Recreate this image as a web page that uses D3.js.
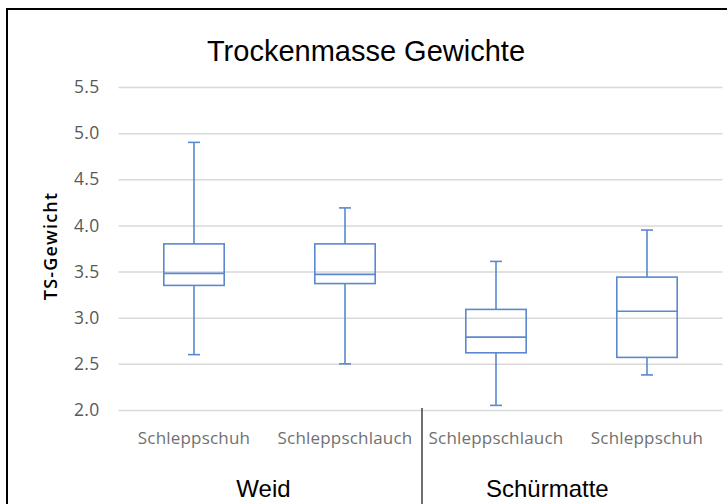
<!DOCTYPE html>
<html><head><meta charset="utf-8">
<script src="https://cdn.jsdelivr.net/npm/d3@7"></script>
<style>html,body{margin:0;padding:0;background:#fff;} svg{display:block;}</style>
</head><body>
<svg id="c" width="727" height="504"></svg>
<script>
// ---- data ----
const categories = ["Schleppschuh", "Schleppschlauch", "Schleppschlauch", "Schleppschuh"];
const groups = ["Weid", "Schürmatte"];
const groupOf = [0, 0, 1, 1];
const mins    = [2.60, 2.50, 2.05, 2.38];
const q1s     = [3.35, 3.37, 2.62, 2.57];
const medians = [3.48, 3.47, 2.79, 3.07];
const q3s     = [3.80, 3.80, 3.09, 3.44];
const maxs    = [4.90, 4.19, 3.61, 3.95];
const yTicks  = [2.0, 2.5, 3.0, 3.5, 4.0, 4.5, 5.0, 5.5];
const chartTitle = "Trockenmasse Gewichte";
const yTitle = "TS-Gewicht";

// ---- layout ----
const svg = d3.select("#c");
const W = 727, H = 504;
const pLeft = 118.5, pRight = 722.5, pTop = 87, pBottom = 410;
const x = d3.scaleBand().domain(d3.range(categories.length)).range([pLeft, pRight]).padding(0);
const y = d3.scaleLinear().domain([2.0, 5.5]).range([pBottom, pTop]);
const blue = "#5b88cf";

// frame
svg.append("line").attr("x1", 7).attr("x2", 7).attr("y1", 8).attr("y2", H).attr("stroke", "#000").attr("stroke-width", 2);
svg.append("line").attr("x1", 6).attr("x2", W).attr("y1", 9).attr("y2", 9).attr("stroke", "#000").attr("stroke-width", 2);

// title
svg.append("text").attr("x", 366).attr("y", 61).attr("text-anchor", "middle")
  .attr("font-family", "Liberation Sans, Arial, sans-serif").attr("font-size", 29).attr("fill", "#000").text(chartTitle);

// grid
const yAxis = d3.axisLeft(y).tickValues(yTicks).tickFormat(d3.format(".1f")).tickSize(-(pRight - pLeft)).tickPadding(19);
const gy = svg.append("g").attr("transform", `translate(${pLeft},0)`).call(yAxis);
gy.select(".domain").remove();
gy.selectAll(".tick line").attr("stroke", "#d9d9d9").attr("stroke-width", 1.5);
gy.selectAll(".tick text").attr("font-family", "Open Sans, sans-serif").attr("font-size", 17.5).attr("letter-spacing", 0.3).attr("fill", "#595959");

// y title
svg.append("text").attr("transform", `translate(57,246) rotate(-90)`).attr("text-anchor", "middle")
  .attr("font-family", "Open Sans, sans-serif").attr("font-weight", 600).attr("font-size", 18).attr("letter-spacing", 1.2).attr("fill", "#000").text(yTitle);

// boxes
const bw = x.bandwidth() * 0.4;
const cap = 12;
const g = svg.append("g").attr("fill", "none").attr("stroke", blue).attr("stroke-width", 1.6);
categories.forEach((c, i) => {
  const cx = x(i) + x.bandwidth() / 2;
  g.append("line").attr("x1", cx).attr("x2", cx).attr("y1", y(maxs[i])).attr("y2", y(q3s[i]));
  g.append("line").attr("x1", cx).attr("x2", cx).attr("y1", y(q1s[i])).attr("y2", y(mins[i]));
  g.append("line").attr("x1", cx - cap / 2).attr("x2", cx + cap / 2).attr("y1", y(maxs[i])).attr("y2", y(maxs[i]));
  g.append("line").attr("x1", cx - cap / 2).attr("x2", cx + cap / 2).attr("y1", y(mins[i])).attr("y2", y(mins[i]));
  g.append("rect").attr("x", cx - bw / 2).attr("y", y(q3s[i])).attr("width", bw).attr("height", y(q1s[i]) - y(q3s[i]));
  g.append("line").attr("x1", cx - bw / 2).attr("x2", cx + bw / 2).attr("y1", y(medians[i])).attr("y2", y(medians[i]));
});

// category labels
svg.append("g").selectAll("text").data(categories).join("text")
  .attr("x", (d, i) => x(i) + x.bandwidth() / 2).attr("y", 444).attr("text-anchor", "middle")
  .attr("font-family", "Open Sans, sans-serif").attr("font-size", 17).attr("letter-spacing", 0.2).attr("fill", "#707070").text(d => d);

// group divider
const divX = x(2) + 1.5;
svg.append("line").attr("x1", divX).attr("x2", divX).attr("y1", 408).attr("y2", H).attr("stroke", "#404040").attr("stroke-width", 1.5);

// group labels
const groupFrac = [0.48, 0.42];
groups.forEach((gname, gi) => {
  const idx = groupOf.map((v, i) => v === gi ? i : -1).filter(v => v >= 0);
  const s = x(idx[0]), e = x(idx[idx.length - 1]) + x.bandwidth();
  svg.append("text").attr("x", s + (e - s) * groupFrac[gi]).attr("y", 497).attr("text-anchor", "middle")
    .attr("font-family", "Liberation Sans, Arial, sans-serif").attr("font-size", 24).attr("fill", "#000").text(gname);
});
</script>
</body></html>
